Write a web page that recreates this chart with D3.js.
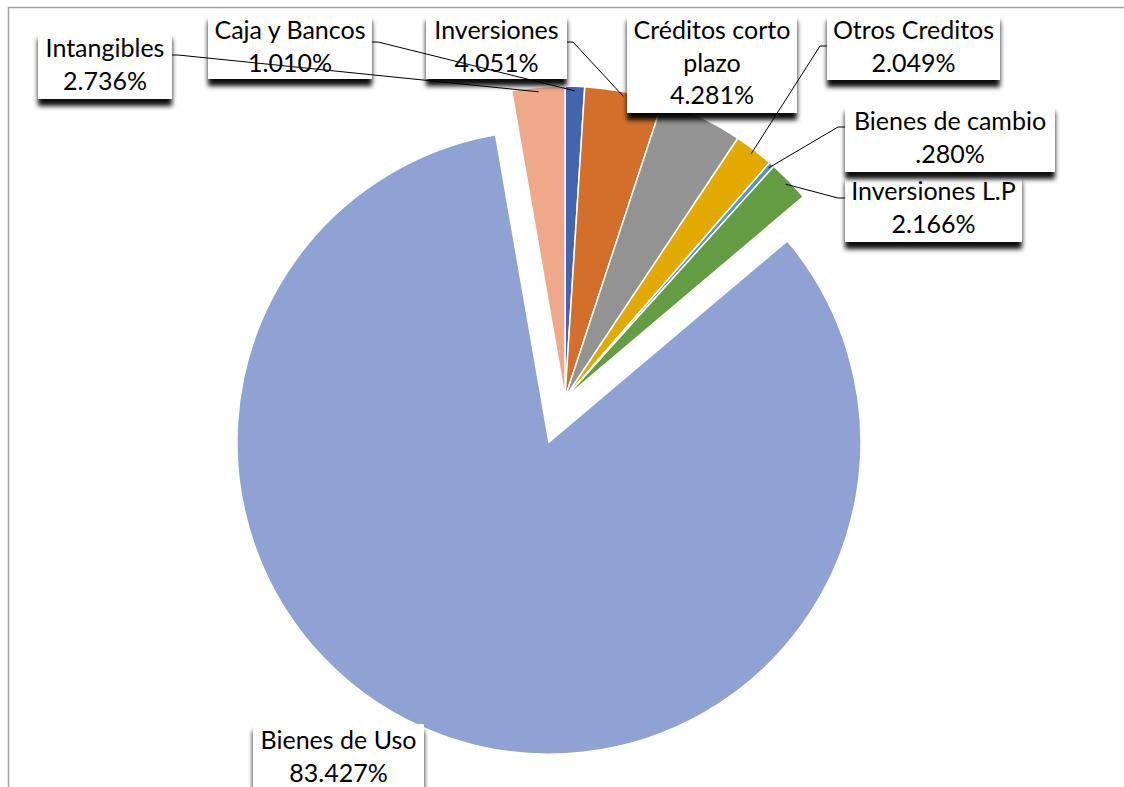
<!DOCTYPE html>
<html>
<head>
<meta charset="utf-8">
<script src="https://cdn.jsdelivr.net/npm/d3@7"></script>
<style>
  html, body { margin: 0; padding: 0; background: #fff; }
  svg { display: block; }
  text { font-family: Lato, "Open Sans", sans-serif; fill: #000; }
</style>
</head>
<body>
<svg id="chart"></svg>
<script>
// Composición del activo (% del total)
const categories = ["Caja y Bancos", "Inversiones", "Créditos corto plazo", "Otros Creditos",
                    "Bienes de cambio", "Inversiones L.P", "Bienes de Uso", "Intangibles"];
const values = [1.010, 4.051, 4.281, 2.049, 0.280, 2.166, 83.427, 2.736];
const colors = ["#4166ae", "#d36f2b", "#939393", "#e2aa00", "#5592d0", "#639c42", "#8fa2d4", "#f0a88a"];

const width = 1124, height = 787;
const cx = 565, cy = 398, radius = 312;
const explodedName = "Bienes de Uso", explodeBy = 47;
const fontSize = 25, lineGap = 32.5;

// label boxes placed by hand like the Excel original; ay = where the leader leaves the box
const labelLayout = {
  "Caja y Bancos":        { x: 208, y: 14,  w: 164, h: 65, lines: ["Caja y Bancos"], side: "right", ay: 42 },
  "Inversiones":          { x: 426, y: 14,  w: 141, h: 65, lines: ["Inversiones"], side: "right", ay: 42 },
  "Créditos corto plazo": { x: 627, y: 14,  w: 170, h: 99, lines: ["Créditos corto", "plazo"], side: null },
  "Otros Creditos":       { x: 827, y: 14,  w: 173, h: 66, lines: ["Otros Creditos"], side: "left", ay: 46 },
  "Bienes de cambio":     { x: 845, y: 105, w: 210, h: 67, lines: ["Bienes de cambio"], side: "left", ay: 127 },
  "Inversiones L.P":      { x: 845, y: 175, w: 177, h: 67, lines: ["Inversiones L.P"], side: "left", ay: 198 },
  "Bienes de Uso":        { x: 253, y: 724, w: 171, h: 72, lines: ["Bienes de Uso"], side: null },
  "Intangibles":          { x: 38,  y: 32,  w: 134, h: 67, lines: ["Intangibles"], side: "right", ay: 55 }
};

const data = categories.map((c, i) => ({ name: c, value: values[i], color: colors[i] }));
const fmt = v => d3.format(".3f")(v).replace(/^0\./, ".") + "%";

const svg = d3.select("#chart").attr("width", width).attr("height", height);

const defs = svg.append("defs");
defs.append("filter").attr("id", "shadow")
    .attr("x", "-10%").attr("y", "-10%").attr("width", "120%").attr("height", "150%")
  .append("feDropShadow")
    .attr("dx", 0).attr("dy", 7).attr("stdDeviation", 2.5)
    .attr("flood-color", "#000").attr("flood-opacity", 0.95);

// chart area border
svg.append("rect")
    .attr("x", 8.5).attr("y", 7.5).attr("width", width).attr("height", height)
    .attr("fill", "none").attr("stroke", "#a3a3a3").attr("stroke-width", 1.5);

const pie = d3.pie().sort(null).value(d => d.value);
const arcs = pie(data);
const arc = d3.arc().innerRadius(0).outerRadius(radius);
const edgeArc = d3.arc().innerRadius(radius * 0.985).outerRadius(radius * 0.985);

const offset = d => {
  if (d.data.name !== explodedName) return [0, 0];
  const a = (d.startAngle + d.endAngle) / 2;
  return [Math.sin(a) * explodeBy, -Math.cos(a) * explodeBy];
};

const g = svg.append("g").attr("transform", `translate(${cx},${cy})`);

g.selectAll("path.slice")
  .data(arcs)
  .join("path")
    .attr("class", "slice")
    .attr("d", arc)
    .attr("transform", d => `translate(${offset(d)})`)
    .attr("fill", d => d.data.color)
    .attr("stroke", "#fff")
    .attr("stroke-width", 1.5)
    .attr("stroke-linejoin", "round");

// labels, drawn last-to-first so the upper boxes' shadows fall over the lower ones
const labels = svg.append("g").selectAll("g.label")
  .data(arcs.slice().reverse())
  .join("g")
    .attr("class", "label");

labels.append("rect")
    .attr("x", d => labelLayout[d.data.name].x)
    .attr("y", d => labelLayout[d.data.name].y)
    .attr("width", d => labelLayout[d.data.name].w)
    .attr("height", d => labelLayout[d.data.name].h)
    .attr("fill", "#fff")
    .attr("filter", "url(#shadow)");

labels.each(function(d) {
  const L = labelLayout[d.data.name];
  const lines = L.lines.concat([fmt(d.data.value)]);
  d3.select(this).selectAll("text")
    .data(lines)
    .join("text")
      .attr("x", L.x + L.w / 2)
      .attr("y", (t, i) => L.y + 15 + i * lineGap)
      .attr("text-anchor", "middle")
      .attr("dominant-baseline", "central")
      .style("font-size", fontSize + "px")
      .text(t => t);
});

// leader lines
const withLeader = arcs.filter(d => labelLayout[d.data.name].side);
svg.append("g").selectAll("path.leader")
  .data(withLeader)
  .join("path")
    .attr("class", "leader")
    .attr("fill", "none")
    .attr("stroke", "#000")
    .attr("stroke-width", 1)
    .attr("d", d => {
      const L = labelLayout[d.data.name];
      const x0 = L.side === "right" ? L.x + L.w : L.x;
      const x1 = L.side === "right" ? x0 + 6 : x0 - 7;
      const [tx, ty] = edgeArc.centroid(d);
      const [ox, oy] = offset(d);
      return `M${x0},${L.ay}H${x1}L${cx + tx + ox},${cy + ty + oy}`;
    });
</script>
</body>
</html>
